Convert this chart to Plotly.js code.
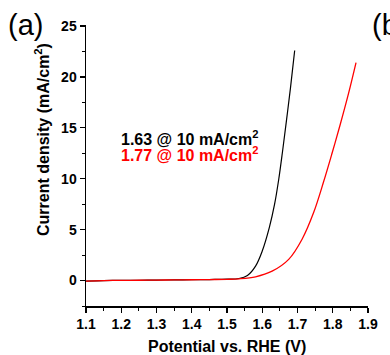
<!DOCTYPE html>
<html>
<head>
<meta charset="utf-8">
<script src="https://cdn.plot.ly/plotly-3.0.1.min.js"></script>
<style>html,body{margin:0;padding:0;background:#fff;}#chart{width:390px;height:355px;}</style>
</head>
<body>
<div id="chart"></div>
<script>
// Black curve: potential (V vs RHE) and current density (mA/cm2)
const blackV = [1.10, 1.15, 1.20, 1.25, 1.30, 1.35, 1.40, 1.45, 1.50, 1.534, 1.558, 1.581, 1.600, 1.620, 1.635, 1.647, 1.658, 1.669, 1.680, 1.692];
const blackJ = [-0.05, 0.00, 0.02, 0.03, 0.05, 0.06, 0.08, 0.10, 0.13, 0.20, 0.50, 1.42, 2.90, 5.20, 7.50, 10.0, 12.8, 15.8, 18.9, 22.6];
// Red curve
const redV = [1.10, 1.15, 1.20, 1.25, 1.30, 1.35, 1.40, 1.45, 1.50, 1.534, 1.581, 1.628, 1.675, 1.713, 1.746, 1.774, 1.798, 1.821, 1.845, 1.866];
const redJ = [-0.05, 0.00, 0.02, 0.03, 0.05, 0.06, 0.08, 0.10, 0.12, 0.17, 0.37, 0.92, 2.08, 4.06, 6.70, 9.7, 12.5, 15.3, 18.4, 21.4];
// Labels
const labelBlack = '1.63 @ 10 mA/cm<sup>2</sup>';
const labelRed = '1.77 @ 10 mA/cm<sup>2</sup>';
const xTitle = 'Potential vs. RHE (V)';
const yTitle = 'Current density (mA/cm<sup>2</sup>)';
const xTicks = [1.1, 1.2, 1.3, 1.4, 1.5, 1.6, 1.7, 1.8, 1.9];
const yTicks = [0, 5, 10, 15, 20, 25];

const F = 'Liberation Sans, Arial, sans-serif';
const traces = [
  {x: blackV, y: blackJ, mode: 'lines', line: {color: '#000000', width: 1.2, shape: 'spline', smoothing: 1}, hoverinfo: 'skip'},
  {x: redV, y: redJ, mode: 'lines', line: {color: '#ff0000', width: 1.3, shape: 'spline', smoothing: 1}, hoverinfo: 'skip'}
];
const L = 86, R = 368, T = 25, B = 306;
const px = v => (v - L) / (R - L);
const py = v => (B - v) / (B - T);
const layout = {
  width: 390, height: 355,
  margin: {l: L, r: 390 - R, t: T, b: 355 - B},
  paper_bgcolor: '#ffffff', plot_bgcolor: '#ffffff',
  showlegend: false,
  xaxis: {
    range: [1.1, 1.9], tickvals: xTicks, ticktext: xTicks.map(v => v.toFixed(1)),
    ticks: 'outside', ticklen: 5, tickwidth: 1.2, tickcolor: '#000',
    showline: true, linecolor: '#000', linewidth: 1.5, showgrid: false, zeroline: false,
    tickfont: {family: F, size: 14, color: '#000', weight: 'bold'},
    minor: {dtick: 0.05, tick0: 1.1, ticks: 'outside', ticklen: 3, tickcolor: '#000', tickwidth: 1, showgrid: false}
  },
  yaxis: {
    range: [-2.5, 25.1], tickvals: yTicks, ticktext: yTicks.map(String),
    ticks: 'outside', ticklen: 5, tickwidth: 1.2, tickcolor: '#000',
    showline: true, linecolor: '#000', linewidth: 1.5, showgrid: false, zeroline: false,
    tickfont: {family: F, size: 14, color: '#000', weight: 'bold'},
    minor: {dtick: 2.5, tick0: 0, ticks: 'outside', ticklen: 3, tickcolor: '#000', tickwidth: 1, showgrid: false}
  },
  annotations: [
    {xref: 'paper', yref: 'paper', x: px(119), y: py(137.5), xanchor: 'left', yanchor: 'middle', showarrow: false,
     text: labelBlack, font: {family: F, size: 16, color: '#000', weight: 'bold'}},
    {xref: 'paper', yref: 'paper', x: px(119), y: py(154), xanchor: 'left', yanchor: 'middle', showarrow: false,
     text: labelRed, font: {family: F, size: 16, color: '#ff0000', weight: 'bold'}},
    {xref: 'paper', yref: 'paper', x: px(227), y: py(346), xanchor: 'center', yanchor: 'middle', showarrow: false,
     text: xTitle, font: {family: F, size: 16, color: '#000', weight: 'bold'}},
    {xref: 'paper', yref: 'paper', x: px(42), y: py(140), xanchor: 'center', yanchor: 'middle', showarrow: false, textangle: -90,
     text: yTitle, font: {family: F, size: 16, color: '#000', weight: 'bold'}},
    {xref: 'paper', yref: 'paper', x: px(6), y: py(25), xanchor: 'left', yanchor: 'middle', showarrow: false,
     text: '(a)', font: {family: F, size: 29, color: '#000'}},
    {xref: 'paper', yref: 'paper', x: px(370), y: py(25), xanchor: 'left', yanchor: 'middle', showarrow: false,
     text: '(b)', font: {family: F, size: 29, color: '#000'}}
  ]
};
Plotly.newPlot('chart', traces, layout, {staticPlot: true, displayModeBar: false});
</script>
</body>
</html>
